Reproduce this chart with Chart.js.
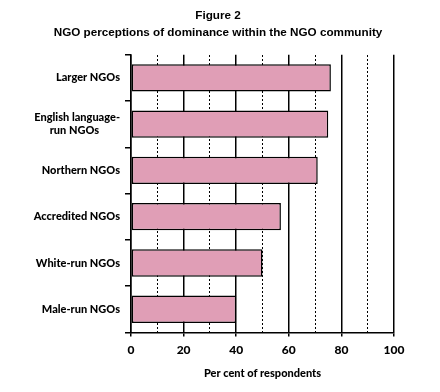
<!DOCTYPE html>
<html>
<head>
<meta charset="utf-8">
<script src="https://cdn.jsdelivr.net/npm/chart.js@4"></script>
<style>
  html, body { margin: 0; padding: 0; background: #fff; }
  #wrap { width: 440px; height: 392px; }
</style>
</head>
<body>
<div id="wrap"><canvas id="ngoChart"></canvas></div>
<script>
// categories, top to bottom
const categories = [
    'Larger NGOs',
    ['English language-', 'run NGOs\u00A0\u00A0\u00A0\u00A0\u00A0\u00A0\u00A0\u00A0'],
    'Northern NGOs',
    'Accredited NGOs',
    'White-run NGOs',
    'Male-run NGOs'
];
// per cent of respondents
const percentValues = [76, 75, 71, 57, 50, 40];
const xTicks = [0, 20, 40, 60, 80, 100];

const labelFont = "Lato, 'Liberation Sans Narrow', sans-serif";

document.addEventListener('DOMContentLoaded', () => {
    const ctx = document.getElementById('ngoChart').getContext('2d');

    new Chart(ctx, {
        type: 'bar',
        data: {
            labels: categories,
            datasets: [{
                data: percentValues,
                backgroundColor: '#E09EB6',
                borderColor: '#000',
                borderWidth: 1.5,
                borderSkipped: false,
                categoryPercentage: 1,
                barPercentage: 0.59
            }]
        },
        options: {
            indexAxis: 'y',
            responsive: true,
            maintainAspectRatio: false,
            animation: false,
            layout: {
                padding: { left: 24, right: 28, top: 6, bottom: 12 }
            },
            plugins: {
                legend: { display: false },
                tooltip: { enabled: false },
                title: {
                    display: true,
                    text: ['Figure 2', 'NGO perceptions of dominance within the NGO community'],
                    color: '#000',
                    font: { family: "'Liberation Sans', Arial, sans-serif", size: 11.7, weight: 'bold', lineHeight: 1.4 },
                    padding: { top: 2, bottom: 14 }
                }
            },
            scales: {
                x: {
                    min: 0,
                    max: 100,
                    afterBuildTicks: axis => {
                        axis.ticks = xTicks.map(v => ({ value: v }));
                    },
                    ticks: {
                        color: '#000',
                        padding: 7,
                        font: { family: labelFont, size: 12, weight: '900' }
                    },
                    grid: {
                        color: '#000',
                        lineWidth: 1.5,
                        tickLength: 4
                    },
                    border: { color: '#000', width: 1.5 },
                    title: {
                        display: true,
                        text: 'Per cent of respondents',
                        color: '#000',
                        font: { family: labelFont, size: 11, weight: '900' },
                        padding: { top: 2, bottom: 0 }
                    }
                },
                // dotted lines at the odd tens
                x2: {
                    position: 'top',
                    min: 0,
                    max: 100,
                    ticks: { display: false, stepSize: 10 },
                    grid: {
                        color: c => (c.tick && c.tick.value % 20 !== 0) ? '#000' : 'rgba(0,0,0,0)',
                        lineWidth: 1,
                        drawTicks: false
                    },
                    border: { display: false, dash: [2, 2] },
                    afterFit: axis => { axis.height = 0; }
                },
                y: {
                    ticks: {
                        color: '#000',
                        padding: 5,
                        font: { family: labelFont, size: 11, weight: '900' }
                    },
                    grid: {
                        offset: true,
                        drawOnChartArea: false,
                        color: '#000',
                        lineWidth: 1.5,
                        tickLength: 6
                    },
                    border: { color: '#000', width: 1.5 },
                    afterFit: axis => { axis.width += 10; }
                },
                // empty spacer on the right so the title stays centred on the page
                yRight: {
                    type: 'linear',
                    position: 'right',
                    ticks: { display: false },
                    grid: { display: false },
                    border: { display: false },
                    afterFit: axis => { axis.width = 18; }
                }
            }
        }
    });
});
</script>
</body>
</html>
